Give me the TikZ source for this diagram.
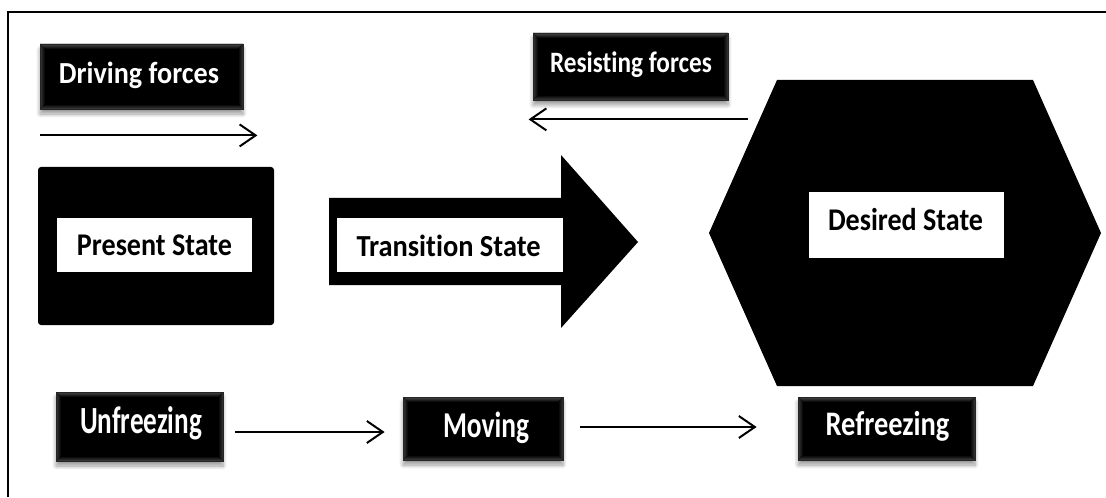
\documentclass[tikz,border=0pt]{standalone}
\usepackage{fontspec}
\setmainfont{Carlito}[Ligatures=NoCommon]
\usetikzlibrary{arrows.meta,calc,shadows.blur}
\newcommand{\lbl}[3]{\resizebox{#1}{\height}{\fontsize{#2}{#2}\selectfont\bfseries #3}}
\begin{document}
\begin{tikzpicture}[x=0.5pt,y=-0.5pt,
  blackbox/.style={fill=black, draw=black!85, line width=0.4pt, inner sep=0pt,
    blur shadow={shadow xshift=0pt, shadow yshift=-2.5pt, shadow blur steps=8, shadow opacity=40},
    path picture={
      \coordinate (nw) at (path picture bounding box.north west);
      \coordinate (ne) at (path picture bounding box.north east);
      \coordinate (sw) at (path picture bounding box.south west);
      \coordinate (se) at (path picture bounding box.south east);
      \fill[top color=black!72, bottom color=black] (nw) -- (ne) -- ($(ne)+(-5,5)$) -- ($(nw)+(5,5)$) -- cycle;
      \fill[left color=black!78, right color=black] (nw) -- ($(nw)+(5,5)$) -- ($(sw)+(5,-5)$) -- (sw) -- cycle;
      \fill[right color=black!78, left color=black] (ne) -- ($(ne)+(-5,5)$) -- ($(se)+(-5,-5)$) -- (se) -- cycle;
      \fill[bottom color=black!75, top color=black] (sw) -- ($(sw)+(5,-5)$) -- ($(se)+(-5,-5)$) -- (se) -- cycle;
    }},
  whitebox/.style={fill=white, inner sep=0pt},
  txt/.style={inner sep=0pt, anchor=base},
  flow/.style={line width=1pt, -{Straight Barb[length=8pt,width=11pt,line width=1pt]}}
]
\useasboundingbox (0,0) rectangle (1106,497);
% frame
\draw[line width=1pt] (8,497) -- (8,12) -- (1106,12);

% driving forces
\node[blackbox, minimum width=101.5pt, minimum height=32.5pt] (drv) at (141.5,76.5) {};
\node[txt, text=white] (drvt) at (139,84) {\lbl{80pt}{15.3pt}{Driving forces}};
\draw[flow] ($(drv.south west)+(0,26)$) -- ($(drv.south east)+(14,26)$);

% resisting forces
\node[blackbox, minimum width=97.5pt, minimum height=33.5pt] (res) at (630.5,66.5) {};
\node[txt, text=white] (rest) at (631,73) {\lbl{81pt}{14.8pt}{Resisting forces}};
\draw[flow] ($(res.south east)+(20,19)$) -- ($(res.south west)+(-4,19)$);

% present state
\node[fill=black, rounded corners=1.5pt, inner sep=0pt, minimum width=118pt, minimum height=79pt] (pres) at (156,246) {};
\node[whitebox, minimum width=97.5pt, minimum height=27pt] (presw) at (154.5,245) {};
\node[txt] (prest) at (154.5,256) {\lbl{77.5pt}{15.8pt}{Present State}};

% transition state arrow
\fill[black] (329,198) -- (561,198) -- (561,155) -- (638,242) -- (561,328) -- (561,285) -- (329,285) -- cycle;
\node[whitebox, minimum width=113pt, minimum height=27pt] (trw) at (450,245) {};
\node[txt] (trt) at (448.5,256) {\lbl{92pt}{15.3pt}{Transition State}};

% desired state hexagon
\fill[black] (777,80) -- (1033,80) -- (1101,233) -- (1033,386) -- (777,386) -- (709,233) -- cycle;
\node[whitebox, minimum width=97.5pt, minimum height=33pt] (desw) at (906.5,225) {};
\node[txt] (dest) at (905.5,230) {\lbl{77.5pt}{15.8pt}{Desired State}};

% bottom row
\node[blackbox, minimum width=83.5pt, minimum height=34.5pt] (unf) at (139.5,426.5) {};
\node[txt, text=white] (unft) at (141,433) {\lbl{61pt}{19.2pt}{Unfreezing}};
\node[blackbox, minimum width=80pt, minimum height=31.5pt] (mov) at (483,428.5) {};
\node[txt, text=white] (movt) at (486,437) {\lbl{43pt}{18.2pt}{Moving}};
\node[blackbox, minimum width=88.5pt, minimum height=31.5pt] (ref) at (886.5,428.5) {};
\node[txt, text=white] (reft) at (887.5,435) {\lbl{62pt}{17.2pt}{Refreezing}};

\draw[flow] ($(unf.east)+(12,5.5)$) -- ($(mov.west)+(-18,3.5)$);
\draw[flow] ($(mov.east)+(17,-1.5)$) -- ($(ref.west)+(-41,-1.5)$);
\end{tikzpicture}
\end{document}
